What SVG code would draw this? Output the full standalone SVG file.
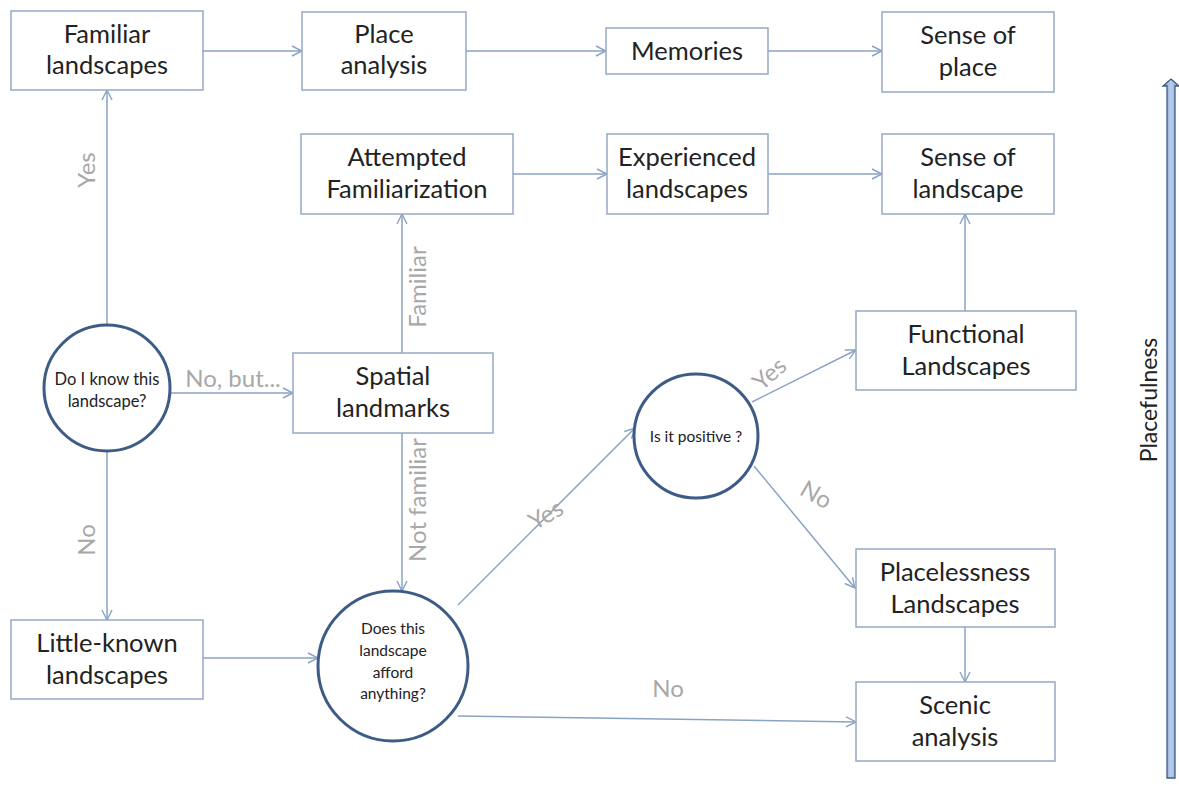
<svg xmlns="http://www.w3.org/2000/svg" width="1179" height="789" viewBox="0 0 1179 789">
<defs>
<style>
.box{fill:#fff;stroke:#95a9c3;stroke-width:1.5}
.circ{fill:#fff;stroke:#3d5c85;stroke-width:3}
.t{font-family:Lato,"Open Sans",sans-serif;font-size:25.5px;fill:#222;text-anchor:middle}
.ct{font-family:Lato,"Open Sans",sans-serif;font-size:15.5px;fill:#222;text-anchor:middle}
.lbl{font-family:Lato,"Open Sans",sans-serif;font-size:24px;fill:#a8a8a8;text-anchor:middle}
.c{stroke:#8aa3c4;stroke-width:1.5;fill:none;marker-end:url(#ah)}
</style>
<marker id="ah" viewBox="0 0 12 12" refX="11" refY="6" markerWidth="12" markerHeight="12" markerUnits="userSpaceOnUse" orient="auto">
<path d="M1,1 L11,6 L1,11" fill="none" stroke="#8aa3c4" stroke-width="1.4"/>
</marker>
<linearGradient id="ag" x1="0" x2="1" y1="0" y2="0">
<stop offset="0" stop-color="#7f9fcf"/>
<stop offset="0.5" stop-color="#b9cdea"/>
<stop offset="1" stop-color="#7f9fcf"/>
</linearGradient>
</defs>
<rect width="1179" height="789" fill="#fff"/>

<g id="connectors">
<line class="c" x1="203" y1="51" x2="302" y2="51"/>
<line class="c" x1="466" y1="51" x2="606" y2="51"/>
<line class="c" x1="768" y1="51" x2="882" y2="51"/>
<line class="c" x1="513" y1="174" x2="607" y2="174"/>
<line class="c" x1="768" y1="174" x2="882" y2="174"/>
<line class="c" x1="107" y1="325" x2="107" y2="90"/>
<line class="c" x1="170" y1="393" x2="293" y2="393"/>
<line class="c" x1="107" y1="450" x2="107" y2="620"/>
<line class="c" x1="402" y1="353" x2="402" y2="214"/>
<line class="c" x1="402" y1="433" x2="402" y2="591"/>
<line class="c" x1="203" y1="658" x2="318" y2="658"/>
<line class="c" x1="458" y1="605" x2="635" y2="428"/>
<line class="c" x1="752" y1="402" x2="856" y2="350"/>
<line class="c" x1="754" y1="466" x2="855" y2="588"/>
<line class="c" x1="965" y1="311" x2="965" y2="214"/>
<line class="c" x1="965" y1="627" x2="965" y2="682"/>
<line class="c" x1="458" y1="716" x2="856" y2="722"/>
<text class="lbl" transform="translate(95,170) rotate(-90)">Yes</text>
<text class="lbl" x="233" y="387">No, but...</text>
<text class="lbl" transform="translate(95,540) rotate(-90)">No</text>
<text class="lbl" transform="translate(426,287) rotate(-90)">Familiar</text>
<text class="lbl" transform="translate(426,500) rotate(-90)">Not familiar</text>
<text class="lbl" transform="translate(550,522) rotate(-30)">Yes</text>
<text class="lbl" transform="translate(775,380) rotate(-42)">Yes</text>
<text class="lbl" transform="translate(812,502) rotate(30)">No</text>
<text class="lbl" x="668" y="697">No</text>
</g>

<g id="familiar"><rect class="box" x="11" y="11" width="192" height="79"/><text class="t" x="107" y="43">Familiar</text><text class="t" x="107" y="74">landscapes</text></g>
<g id="place-analysis"><rect class="box" x="302" y="12" width="164" height="78"/><text class="t" x="384" y="43">Place</text><text class="t" x="384" y="74">analysis</text></g>
<g id="memories"><rect class="box" x="606" y="28" width="162" height="46"/><text class="t" x="687" y="60">Memories</text></g>
<g id="sense-place"><rect class="box" x="882" y="12" width="172" height="80"/><text class="t" x="968" y="44">Sense of</text><text class="t" x="968" y="76">place</text></g>
<g id="attempted"><rect class="box" x="301" y="134" width="212" height="80"/><text class="t" x="407" y="166">Attempted</text><text class="t" x="407" y="198">Familiarization</text></g>
<g id="experienced"><rect class="box" x="607" y="134" width="161" height="80"/><text class="t" x="687" y="166">Experienced</text><text class="t" x="687" y="198">landscapes</text></g>
<g id="sense-landscape"><rect class="box" x="882" y="134" width="172" height="80"/><text class="t" x="968" y="166">Sense of</text><text class="t" x="968" y="198">landscape</text></g>
<g id="functional"><rect class="box" x="856" y="311" width="220" height="79"/><text class="t" x="966" y="343">Functional</text><text class="t" x="966" y="375">Landscapes</text></g>
<g id="spatial"><rect class="box" x="293" y="353" width="200" height="80"/><text class="t" x="393" y="385">Spatial</text><text class="t" x="393" y="417">landmarks</text></g>
<g id="placelessness"><rect class="box" x="856" y="549" width="199" height="78"/><text class="t" x="955" y="581">Placelessness</text><text class="t" x="955" y="613">Landscapes</text></g>
<g id="scenic"><rect class="box" x="856" y="682" width="199" height="79"/><text class="t" x="955" y="714">Scenic</text><text class="t" x="955" y="746">analysis</text></g>
<g id="little-known"><rect class="box" x="11" y="620" width="192" height="79"/><text class="t" x="107" y="652">Little-known</text><text class="t" x="107" y="684">landscapes</text></g>

<g id="know"><circle class="circ" cx="107" cy="388" r="63"/><text class="ct" x="107" y="385" style="font-size:16.5px">Do I know this</text><text class="ct" x="107" y="407" style="font-size:16.5px">landscape?</text></g>
<g id="positive"><circle class="circ" cx="696" cy="436" r="62"/><text class="ct" x="696" y="442">Is it positive ?</text></g>
<g id="afford"><circle class="circ" cx="393" cy="666" r="75"/><text class="ct" x="393" y="634">Does this</text><text class="ct" x="393" y="656">landscape</text><text class="ct" x="393" y="678">afford</text><text class="ct" x="393" y="699">anything?</text></g>

<g id="placefulness">
<path d="M1171,79 L1179,86 L1175,86 L1175,778 L1167,778 L1167,86 L1163,86 Z" fill="url(#ag)" stroke="#3d5c85" stroke-width="1.3"/>
<text transform="translate(1157,400) rotate(-90)" font-family="Lato,'Open Sans',sans-serif" font-size="23" fill="#222" text-anchor="middle">Placefulness</text>
</g>
</svg>
